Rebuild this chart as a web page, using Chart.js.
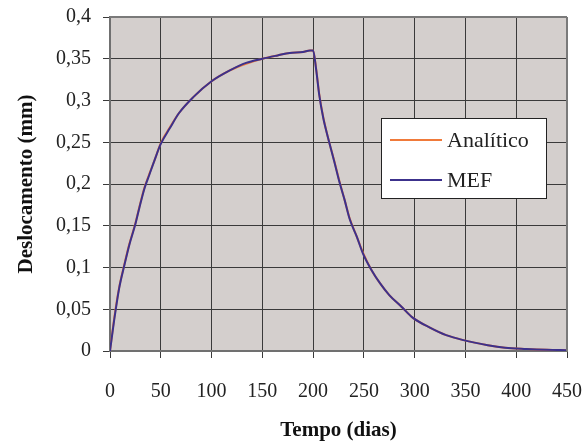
<!DOCTYPE html>
<html>
<head>
<meta charset="utf-8">
<script src="https://cdn.jsdelivr.net/npm/chart.js@4/dist/chart.umd.min.js"></script>
<style>
  html, body { margin: 0; padding: 0; background: #ffffff; }
  #wrap { width: 585px; height: 445px; position: relative; }
</style>
</head>
<body>
<div id="wrap"><canvas id="c" width="585" height="445"></canvas></div>
<script>
// ---- data ----
const tempo = [0, 4, 9, 14, 19, 25, 29, 34, 39, 44, 50, 59, 68, 82, 100, 118, 134, 150, 165, 177, 190, 197, 200,
  203, 206, 210, 215, 221, 226, 231, 236, 243, 249, 257, 266, 275, 287, 298, 315, 331, 348, 372, 389, 410, 430, 450];
const analitico = [0, 0.038, 0.076, 0.103, 0.128, 0.153, 0.173, 0.196, 0.213, 0.229, 0.249, 0.268, 0.285, 0.304, 0.323, 0.336, 0.344, 0.350, 0.354, 0.357, 0.358, 0.360, 0.360,
  0.338, 0.308, 0.280, 0.254, 0.227, 0.203, 0.181, 0.159, 0.137, 0.118, 0.098, 0.081, 0.067, 0.053, 0.040, 0.028, 0.019, 0.013, 0.007, 0.004, 0.0025, 0.0015, 0.001];
const mef = [0, 0.036, 0.075, 0.102, 0.127, 0.152, 0.172, 0.195, 0.212, 0.229, 0.248, 0.267, 0.285, 0.304, 0.323, 0.336, 0.345, 0.350, 0.354, 0.357, 0.358, 0.360, 0.360,
  0.337, 0.307, 0.279, 0.254, 0.226, 0.202, 0.181, 0.158, 0.137, 0.117, 0.098, 0.081, 0.067, 0.053, 0.040, 0.028, 0.019, 0.013, 0.007, 0.004, 0.0025, 0.0015, 0.001];
const xTickLabels = ['0', '50', '100', '150', '200', '250', '300', '350', '400', '450'];
const yTickLabels = ['0', '0,05', '0,1', '0,15', '0,2', '0,25', '0,3', '0,35', '0,4'];
const seriesNames = ['Analítico', 'MEF'];
const xTitle = 'Tempo (dias)';
const yTitle = 'Deslocamento (mm)';

const FONT = '"Liberation Serif", "Times New Roman", serif';
const plotBg = {
  id: 'plotBg',
  beforeDraw(chart) {
    const { ctx, chartArea: a } = chart;
    ctx.save();
    ctx.fillStyle = '#d4cfcd';
    ctx.fillRect(a.left, a.top, a.right - a.left, a.bottom - a.top);
    ctx.restore();
  },
  afterDatasetsDraw(chart) {
    const { ctx, chartArea: a } = chart;
    ctx.save();
    ctx.strokeStyle = '#7a7a7a';
    ctx.lineWidth = 2;
    ctx.beginPath();
    ctx.moveTo(a.left, a.top); ctx.lineTo(a.right, a.top);
    ctx.moveTo(a.right, a.top); ctx.lineTo(a.right, a.bottom);
    ctx.stroke();
    ctx.restore();
  }
};
const boxLegend = {
  id: 'boxLegend',
  afterDraw(chart) {
    const { ctx } = chart;
    const x0 = 381, y0 = 118, w = 165, h = 80;
    ctx.save();
    ctx.fillStyle = '#ffffff';
    ctx.fillRect(x0, y0, w, h);
    ctx.strokeStyle = '#222222';
    ctx.lineWidth = 1;
    ctx.strokeRect(x0 + 0.5, y0 + 0.5, w, h);
    const rows = [140, 180];
    chart.data.datasets.forEach((ds, i) => {
      const y = rows[i];
      ctx.strokeStyle = ds.borderColor;
      ctx.lineWidth = 2;
      ctx.beginPath();
      ctx.moveTo(390, y); ctx.lineTo(442, y);
      ctx.stroke();
      ctx.fillStyle = '#222222';
      ctx.font = '22px ' + FONT;
      ctx.textBaseline = 'middle';
      ctx.textAlign = 'left';
      ctx.fillText(ds.label, 447, y + 1);
    });
    ctx.restore();
  }
};

const toPts = (arr) => tempo.map((t, i) => ({ x: t, y: arr[i] }));

new Chart(document.getElementById('c'), {
  type: 'line',
  data: {
    datasets: [
      { label: seriesNames[0], data: toPts(analitico), borderColor: '#f07a3a', borderWidth: 2, pointRadius: 0, cubicInterpolationMode: 'monotone', order: 1 },
      { label: seriesNames[1], data: toPts(mef), borderColor: '#3c318c', borderWidth: 2, pointRadius: 0, cubicInterpolationMode: 'monotone', order: 0 }
    ]
  },
  options: {
    responsive: false,
    animation: false,
    layout: { padding: { top: 17, right: 18, left: 0, bottom: 0 } },
    plugins: { legend: { display: false }, tooltip: { enabled: false } },
    scales: {
      x: {
        type: 'linear', min: 0, max: 450,
        afterFit(s) { s.height = 94; s.paddingLeft = 0; s.paddingRight = 0; },
        ticks: { stepSize: 50, callback: (v, i) => xTickLabels[i], font: { family: FONT, size: 20 }, color: '#222', padding: 22, maxRotation: 0, autoSkip: false },
        grid: { color: '#3a3a3a', lineWidth: 1, tickLength: 7, drawTicks: true },
        border: { color: '#707070', width: 2 },
        title: { display: true, text: xTitle, font: { family: FONT, size: 21, weight: 'bold' }, color: '#111', padding: { top: 0, bottom: 2 } }
      },
      y: {
        min: 0, max: 0.4,
        afterFit(s) { s.width = 110; s.paddingTop = 0; s.paddingBottom = 0; },
        ticks: { stepSize: 0.05, callback: (v, i) => yTickLabels[i], font: { family: FONT, size: 20 }, color: '#222', padding: 12, autoSkip: false },
        grid: { color: '#3a3a3a', lineWidth: 1, tickLength: 7, drawTicks: true },
        border: { color: '#707070', width: 2 },
        title: { display: true, text: yTitle, font: { family: FONT, size: 21, weight: 'bold' }, color: '#111', padding: { top: 14, bottom: 0 } }
      }
    }
  },
  plugins: [plotBg, boxLegend]
});
</script>
</body>
</html>
